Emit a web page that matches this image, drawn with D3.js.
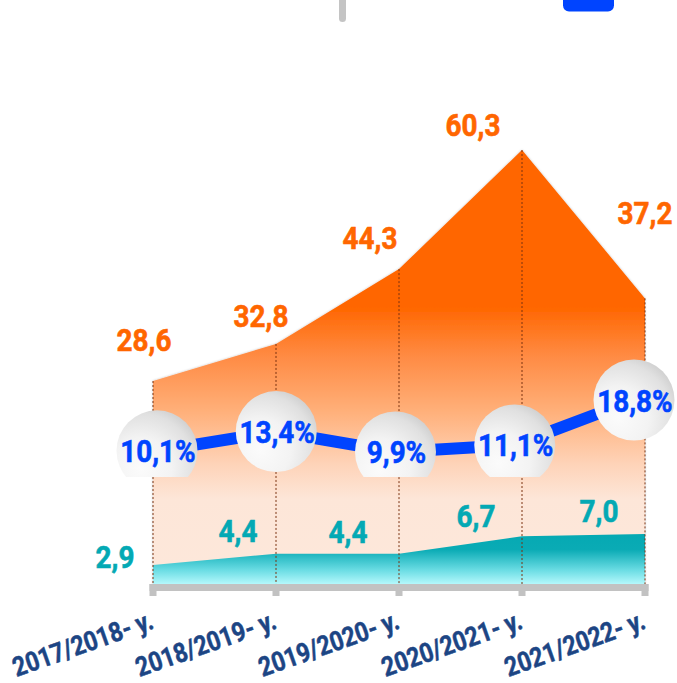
<!DOCTYPE html>
<html>
<head>
<meta charset="utf-8">
<script src="https://cdn.jsdelivr.net/npm/d3@7"></script>
<style>
  html, body { margin: 0; padding: 0; background: #ffffff; }
  svg { display: block; }
  text { font-family: Roboto, "Noto Sans", sans-serif; font-weight: 700; }
</style>
</head>
<body>
<svg id="chart" width="677" height="683"></svg>
<script>
// ---------- data ----------
const years = ["2017/2018- y.", "2018/2019- y.", "2019/2020- y.", "2020/2021- y.", "2021/2022- y."];
const orangeValues = [28.6, 32.8, 44.3, 60.3, 37.2];
const tealValues = [2.9, 4.4, 4.4, 6.7, 7.0];
const percentValues = [10.1, 13.4, 9.9, 11.1, 18.8];
const fmt = v => v.toFixed(1).replace(".", ",");

// ---------- layout (not data) ----------
const orangeLabelOffsets = [[-9, -30], [-15, -17], [-29, -20], [-49, -14], [0, -74]];
const tealLabelOffsets = [[-38, 3], [-38, -12], [-51, -11], [-46, -9], [-46, -12]];

const svg = d3.select("#chart");
const defs = svg.append("defs");

// scales
const x = d3.scalePoint().domain(years).range([153, 645]);
const xPct = d3.scalePoint().domain(years).range([157, 634]);
const yTotal = d3.scaleLinear().domain([0, 70]).range([586, 586 - 70 * 6.507]);
const yTeal = d3.scaleLinear().domain([0, 10]).range([587, 587 - 75.6]);
const yPct = d3.scaleLinear().domain([0, 20]).range([509.8, 509.8 - 20 * 5.84]);

// gradients
const og = defs.append("linearGradient").attr("id", "orangeGrad")
  .attr("gradientUnits", "userSpaceOnUse").attr("x1", 0).attr("x2", 0).attr("y1", 150).attr("y2", 586);
[[0, "#ff6600"], [0.36, "#ff6600"], [0.47, "#ff8a42"], [0.6, "#ffb07a"], [0.72, "#fed3b8"], [0.8, "#fde6d8"], [1, "#fde8db"]]
  .forEach(([o, c]) => og.append("stop").attr("offset", o).attr("stop-color", c));

const tg = defs.append("linearGradient").attr("id", "tealGrad")
  .attr("gradientUnits", "userSpaceOnUse").attr("x1", 0).attr("x2", 0).attr("y1", 534).attr("y2", 586);
[[0, "#05a9b3"], [0.3, "#0aabb5"], [0.7, "#6cdde4"], [1, "#bffcff"]]
  .forEach(([o, c]) => tg.append("stop").attr("offset", o).attr("stop-color", c));

const cg = defs.append("radialGradient").attr("id", "circGrad")
  .attr("cx", "30%").attr("cy", "72%").attr("r", "85%");
[[0, "#fbfbfb"], [0.45, "#f3f3f3"], [0.8, "#e0e0e0"], [1, "#cacaca"]]
  .forEach(([o, c]) => cg.append("stop").attr("offset", o).attr("stop-color", c));

const sh = defs.append("filter").attr("id", "shadow").attr("x", "-10%").attr("y", "-10%").attr("width", "120%").attr("height", "120%");
sh.append("feDropShadow").attr("dx", 0).attr("dy", 0).attr("stdDeviation", 1.2).attr("flood-color", "#000").attr("flood-opacity", 0.25);

defs.append("clipPath").attr("id", "circClip")
  .append("rect").attr("x", 0).attr("y", 0).attr("width", 677).attr("height", 477);

// legend remnants at top
svg.append("rect").attr("x", 339).attr("y", -10).attr("width", 7).attr("height", 32).attr("rx", 3.5).attr("fill", "#c4c4c4");
svg.append("rect").attr("x", 563).attr("y", -10).attr("width", 51).attr("height", 21.5).attr("rx", 6).attr("fill", "#0044ff");

// orange area (stacked total)
const totals = orangeValues.map((v, i) => v + tealValues[i]);
const areaTotal = d3.area()
  .x((d, i) => x(years[i])).y0(yTotal(0)).y1(d => yTotal(d));
svg.append("path").datum(totals).attr("d", areaTotal).attr("fill", "url(#orangeGrad)").attr("filter", "url(#shadow)");

// teal area
const areaTeal = d3.area()
  .x((d, i) => x(years[i])).y0(yTeal(0)).y1(d => yTeal(d));
svg.append("path").datum(tealValues).attr("d", areaTeal).attr("fill", "url(#tealGrad)");

// dashed drop lines
svg.append("g").selectAll("line").data(totals).join("line")
  .attr("x1", (d, i) => x(years[i])).attr("x2", (d, i) => x(years[i]))
  .attr("y1", d => yTotal(d)).attr("y2", 584)
  .attr("stroke", "#7a3210").attr("stroke-width", 1).attr("stroke-dasharray", "2,2");

// x axis bar and ticks
const axisG = svg.append("g");
axisG.append("rect").attr("x", x(years[0]) - 3.5).attr("y", 584).attr("width", x(years[4]) - x(years[0]) + 7).attr("height", 7).attr("fill", "#c2c2c2");
axisG.selectAll("rect.tick").data(years).join("rect").attr("class", "tick")
  .attr("x", d => x(d) - 3.5).attr("y", 584).attr("width", 7).attr("height", 12).attr("fill", "#c2c2c2");

// x labels
svg.append("g").selectAll("text").data(years).join("text")
  .attr("transform", d => `translate(${x(d) + 2},628) rotate(-19.5) scale(0.86,1)`)
  .attr("text-anchor", "end").attr("font-size", 27).attr("fill", "#1c4584")
  .attr("stroke", "#1c4584").attr("stroke-width", 0.5)
  .text(d => d);

// orange labels
svg.append("g").selectAll("text").data(orangeValues).join("text")
  .attr("transform", (d, i) => `translate(${x(years[i]) + orangeLabelOffsets[i][0]},${yTotal(totals[i]) + orangeLabelOffsets[i][1]}) scale(0.9,1)`)
  .attr("text-anchor", "middle").attr("font-size", 31).attr("fill", "#ff6600")
  .attr("stroke", "#ff6600").attr("stroke-width", 0.6)
  .text(d => fmt(d));

// teal labels
svg.append("g").selectAll("text").data(tealValues).join("text")
  .attr("transform", (d, i) => `translate(${x(years[i]) + tealLabelOffsets[i][0]},${yTeal(d) + tealLabelOffsets[i][1]}) scale(0.9,1)`)
  .attr("text-anchor", "middle").attr("font-size", 31).attr("fill", "#03a9b4")
  .attr("stroke", "#03a9b4").attr("stroke-width", 0.6)
  .text(d => fmt(d));

// percent line
const line = d3.line().x((d, i) => xPct(years[i])).y(d => yPct(d));
svg.append("path").datum(percentValues).attr("d", line)
  .attr("fill", "none").attr("stroke", "#0044ff").attr("stroke-width", 12);

// circles
const cgrp = svg.append("g").attr("clip-path", "url(#circClip)");
cgrp.selectAll("circle").data(percentValues).join("circle")
  .attr("cx", (d, i) => xPct(years[i])).attr("cy", d => yPct(d)).attr("r", 40.5)
  .attr("fill", "url(#circGrad)");

svg.append("g").selectAll("text").data(percentValues).join("text")
  .attr("transform", (d, i) => `translate(${xPct(years[i]) + 1},${yPct(d) + 11.5}) scale(0.87,1)`)
  .attr("text-anchor", "middle").attr("font-size", 32).attr("fill", "#0044ff")
  .attr("stroke", "#0044ff").attr("stroke-width", 0.6)
  .text(d => fmt(d) + "%");
</script>
</body>
</html>
